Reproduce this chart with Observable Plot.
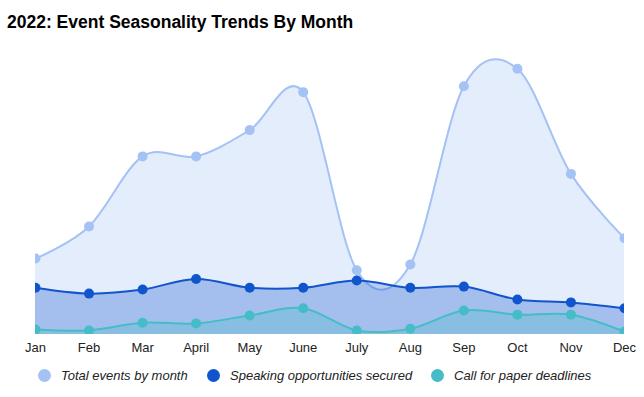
<!DOCTYPE html>
<html><head><meta charset="utf-8">
<script src="https://cdn.jsdelivr.net/npm/d3@7"></script>
<script src="https://cdn.jsdelivr.net/npm/@observablehq/plot@0.6"></script>
<style>
body{margin:0;background:#fff;font-family:"Liberation Sans",Arial,sans-serif;}
#wrap{position:relative;width:644px;height:397px;overflow:hidden;}
#title{height:40px;box-sizing:border-box;padding:12px 0 0 7px;font-weight:bold;font-size:17.5px;line-height:20px;color:#000;}
#legend{position:absolute;left:0;top:366px;height:18px;display:flex;align-items:center;font-style:italic;font-size:13px;color:#222;}
.item{display:flex;align-items:center;position:absolute;white-space:nowrap;}
.sw{width:13px;height:13px;border-radius:50%;display:inline-block;margin-right:10px;}
svg{display:block;}
</style></head>
<body><div id="wrap"><div id="title">2022: Event Seasonality Trends By Month</div><div id="chart"></div><div id="legend"></div></div>
<script>
const months = ["Jan","Feb","Mar","April","May","June","July","Aug","Sep","Oct","Nov","Dec"];
const totalEvents = [26,37,61,61,70,83,22,24,85,91,55,33];
const speaking = [16,14,15.4,19,16,16,18.5,16,16.4,12,11,9];
const cfp = [1.7,1.4,4,3.8,6.5,9,1.4,2,8.2,6.8,6.8,1];
const seriesNames = ["Total events by month","Speaking opportunities secured","Call for paper deadlines"];
const colors = ["#a4c2f4","#1155cc","#46bdc6"];

const data = months.map((m,i)=>({month:m,total:totalEvents[i],speaking:speaking[i],cfp:cfp[i]}));
const keys = ["total","speaking","cfp"];
const marks = [];
keys.forEach((k,i)=>{
  marks.push(Plot.areaY(data,{x:"month",y:k,fill:colors[i],fillOpacity:0.3,curve:"cardinal",tension:0,clip:true}));
  marks.push(Plot.lineY(data,{x:"month",y:k,stroke:colors[i],strokeWidth:2,curve:"cardinal",tension:0,clip:true}));
  marks.push(Plot.dot(data,{x:"month",y:k,fill:colors[i],r:5,clip:true}));
});
const chart = Plot.plot({
  width:644,height:320,marginLeft:35,marginRight:20,marginTop:2,marginBottom:26,
  x:{type:"point",domain:months,padding:0,round:false,label:null,tickSize:0,tickPadding:8},
  y:{domain:[0,100],axis:null},
  style:{fontFamily:"'Liberation Sans',Arial,sans-serif",fontSize:"13px",color:"#222",background:"transparent"},
  marks
});
document.getElementById("chart").appendChild(chart);
const lg = document.getElementById("legend");
const lefts=[38,207,431];
seriesNames.forEach((n,i)=>{
  const it=document.createElement("div");it.className="item";it.style.left=lefts[i]+"px";
  it.innerHTML=`<span class="sw" style="background:${colors[i]}"></span><span>${n}</span>`;
  lg.appendChild(it);
});
</script></body></html>
